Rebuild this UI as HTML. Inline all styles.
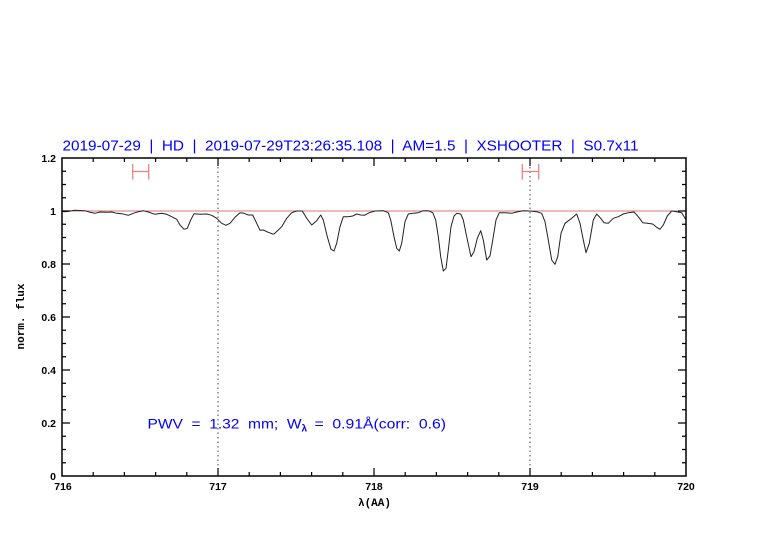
<!DOCTYPE html>
<html>
<head>
<meta charset="utf-8">
<style>
html,body{margin:0;padding:0;background:#fff;}
svg{display:block;}
.tl{font-family:"Liberation Sans",sans-serif;font-weight:bold;font-size:10.5px;fill:#000;}
</style>
</head>
<body>
<svg width="782" height="542" viewBox="0 0 782 542" xmlns="http://www.w3.org/2000/svg">
<rect width="782" height="542" fill="#fff"/>

<!-- title -->
<text x="62.5" y="150.5" font-family="'Liberation Sans',sans-serif" font-size="14.5" fill="#0000ff" textLength="576" lengthAdjust="spacingAndGlyphs" xml:space="preserve">2019-07-29  |  HD  |  2019-07-29T23:26:35.108  |  AM=1.5  |  XSHOOTER  |  S0.7x11</text>

<!-- dotted verticals -->
<line x1="218" y1="158" x2="218" y2="476" stroke="#444" stroke-width="1" stroke-dasharray="1.5,3"/>
<line x1="530" y1="158" x2="530" y2="476" stroke="#444" stroke-width="1" stroke-dasharray="1.5,3"/>

<!-- continuum line -->
<line x1="62" y1="211" x2="686" y2="211" stroke="#e07070" stroke-width="1"/>

<!-- error bars -->
<g stroke="#f08080" stroke-width="1.3" fill="none">
<path d="M132.7 171.5H148.7M132.7 164V179.5M148.7 164V179.5"/>
<path d="M522.3 171.5H538.7M522.3 164V179.5M538.7 164V179.5"/>
</g>

<!-- spectrum -->
<polyline fill="none" stroke="#222" stroke-width="1" stroke-linejoin="round" points="
62,211.5 65,211.7 75,210.3 85,210.7 90,212.3 95,213.3 100,212 106.7,212.3 111.7,212 116.7,213.3 121.7,213.7 128.3,215.3 133.3,213.3 138.3,211.7 143.3,210.7 148.3,212 155,214.3 161.7,213.3 166.7,214.3 171.7,216.7 176.7,219.3 180,225 184,229.3 187.3,228.3 190.7,220 194,213.7 200,214.3 206.7,214 211.7,215.3 216.7,218.3 221.7,223.3 226,225.3 230,223.3 235,217.3 240,212.7 244,213.3 248.3,215 252.7,215 256.7,223.3 260,230.3 263.3,230 268.3,232.3 272.7,234 274,234 278.3,230 281.7,226.7 286.7,218.3 291.7,212.7 296.7,211 302.3,211 306.7,218.3 311.7,225 316.7,220.7 320.7,215 323.3,220 327.3,236.7 331,249.3 334,251 336.7,243.3 340,226.7 343.3,216.7 348.3,216.7 352.7,216 356.7,214 360.7,215 364.3,215.3 369.3,212.7 375,211 383.3,210.7 388.3,212.7 390.7,220 394,236.7 396.7,248.3 399.3,251 401.7,243.3 405,221.7 408.3,214 413.3,213.3 418.3,212.7 423.3,210.7 428.3,210.7 432.7,212.7 435.7,220 438.3,236.7 440.7,256.7 443.3,271 446,268.3 448.3,250 451,226.7 454,216 456.7,213.3 460.7,214 463.3,220 466.7,236.7 471,256.7 474,251.7 477.3,238.3 480.7,230.7 483.3,240 486.7,260 490,256 493.3,236.7 496,220 499.3,212.7 505,212.7 511.7,213.3 516.7,212 523.3,210.7 530,211 536.7,211.7 541.7,213.3 545,221.7 548.3,240 551.7,260 555,264.3 557.7,256.7 561,233.3 565,223.3 571.7,218.3 576.7,214 580,223.3 583.3,240 586,252.7 589.3,243.3 593.3,220 596.7,214 600.7,218.3 604,222.7 608.3,223.3 613.3,218.3 618.3,216.7 623.3,214 628.3,212.7 634,212 638.3,216.7 642.7,222.7 647.3,223.3 652.7,224 656.7,227.3 660,229.3 663.3,225 667.3,216 671.7,211 676.7,211.7 681.7,212.7 685,218.3 686,219"/>

<!-- axes frame -->
<rect x="62" y="158" width="624" height="318" fill="none" stroke="#000" stroke-width="1.5"/>

<!-- ticks -->
<g stroke="#000" stroke-width="1.2" fill="none">
<path d="M93.2 476v-4M124.4 476v-4M155.6 476v-4M186.8 476v-4M249.2 476v-4M280.4 476v-4M311.6 476v-4M342.8 476v-4M405.2 476v-4M436.4 476v-4M467.6 476v-4M498.8 476v-4M561.2 476v-4M592.4 476v-4M623.6 476v-4M654.8 476v-4"/>
<path d="M218 476v-8M374 476v-8M530 476v-8"/>
<path d="M93.2 158v4M124.4 158v4M155.6 158v4M186.8 158v4M249.2 158v4M280.4 158v4M311.6 158v4M342.8 158v4M405.2 158v4M436.4 158v4M467.6 158v4M498.8 158v4M561.2 158v4M592.4 158v4M623.6 158v4M654.8 158v4"/>
<path d="M218 158v8M374 158v8M530 158v8"/>
<path d="M62 462.75h4M62 449.5h4M62 436.25h4M62 409.75h4M62 396.5h4M62 383.25h4M62 356.75h4M62 343.5h4M62 330.25h4M62 303.75h4M62 290.5h4M62 277.25h4M62 250.75h4M62 237.5h4M62 224.25h4M62 197.75h4M62 184.5h4M62 171.25h4"/>
<path d="M62 423h8M62 370h8M62 317h8M62 264h8M62 211h8"/>
<path d="M686 462.75h-4M686 449.5h-4M686 436.25h-4M686 409.75h-4M686 396.5h-4M686 383.25h-4M686 356.75h-4M686 343.5h-4M686 330.25h-4M686 303.75h-4M686 290.5h-4M686 277.25h-4M686 250.75h-4M686 237.5h-4M686 224.25h-4M686 197.75h-4M686 184.5h-4M686 171.25h-4"/>
<path d="M686 423h-8M686 370h-8M686 317h-8M686 264h-8M686 211h-8"/>
</g>

<!-- y tick labels -->
<g class="tl" text-anchor="end">
<text x="56" y="480">0</text>
<text x="56" y="427">0.2</text>
<text x="56" y="374">0.4</text>
<text x="56" y="321">0.6</text>
<text x="56" y="268">0.8</text>
<text x="56" y="215">1</text>
<text x="56" y="162">1.2</text>
</g>

<!-- x tick labels -->
<g class="tl" text-anchor="middle">
<text x="63" y="490">716</text>
<text x="218" y="490">717</text>
<text x="374" y="490">718</text>
<text x="530" y="490">719</text>
<text x="686" y="490">720</text>
</g>

<!-- axis labels -->
<text x="374.5" y="506" text-anchor="middle" font-family="'Liberation Mono',monospace" font-weight="bold" font-size="11" fill="#000">λ(AA)</text>
<text transform="translate(24,316.5) rotate(-90)" text-anchor="middle" font-family="'Liberation Mono',monospace" font-weight="bold" font-size="11" fill="#000" textLength="66" lengthAdjust="spacingAndGlyphs">norm. flux</text>

<!-- PWV annotation -->
<g font-family="'Liberation Sans',sans-serif" fill="#0000ff">
<text x="147.5" y="428.5" font-size="14" textLength="154" lengthAdjust="spacingAndGlyphs" xml:space="preserve">PWV  =  1.32  mm;  W</text>
<text x="301.5" y="431.5" font-size="10" font-weight="bold">λ</text>
<text x="314.5" y="428.5" font-size="14" textLength="131.5" lengthAdjust="spacingAndGlyphs" xml:space="preserve">=  0.91Å(corr:  0.6)</text>
</g>
</svg>
</body>
</html>
